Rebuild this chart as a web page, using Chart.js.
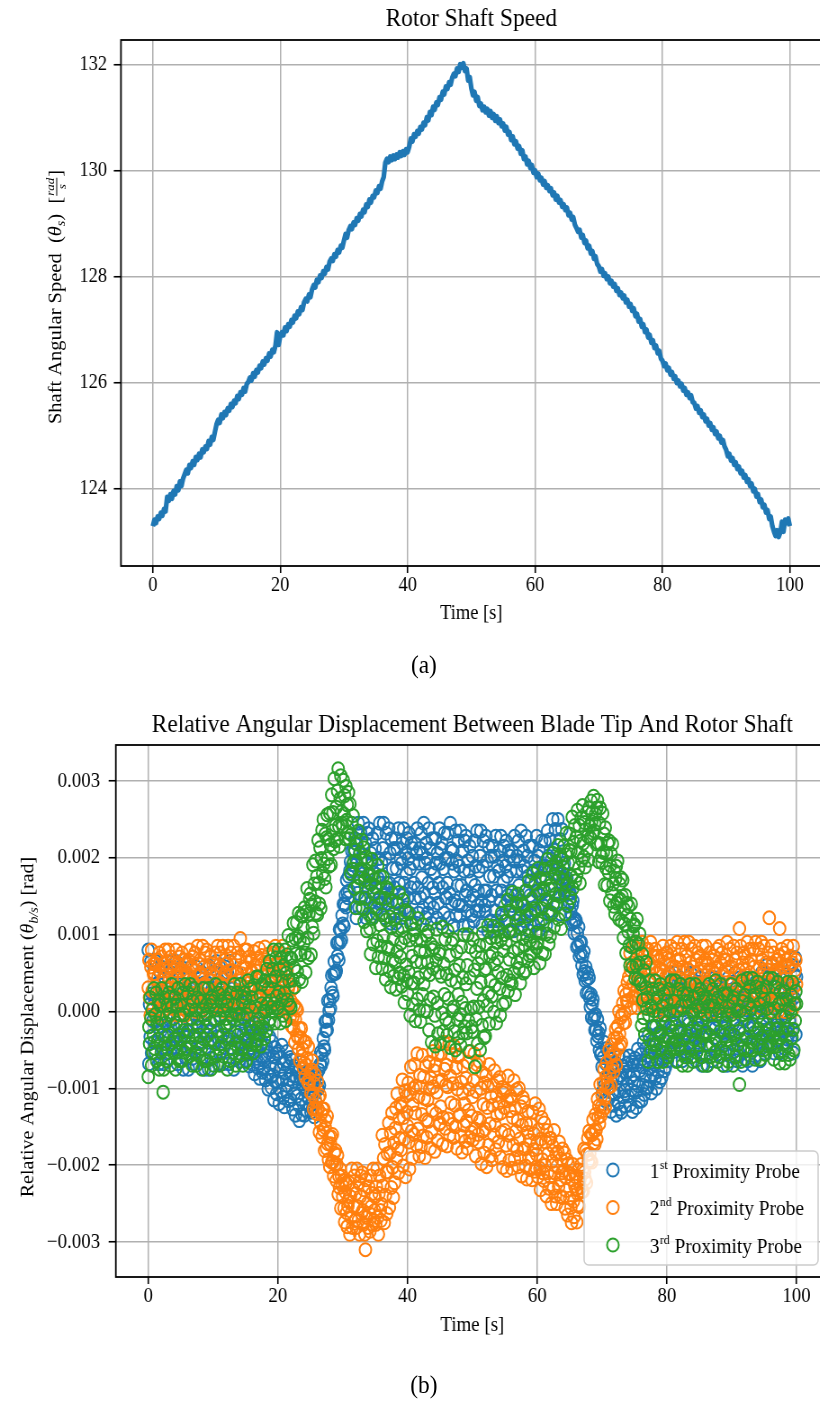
<!DOCTYPE html>
<html>
<head>
<meta charset="utf-8">
<script src="https://cdn.jsdelivr.net/npm/chart.js@4.4.1/dist/chart.umd.min.js"></script>
<style>
  html, body { margin: 0; padding: 0; background: #fff; overflow: hidden; width: 820px; height: 1401px; }
  #page { position: absolute; left: 0; top: 0; width: 922px; height: 1401px; transform: scaleX(0.9); transform-origin: 0 0; }
  canvas { position: absolute; left: 0; }
  .cap { position: absolute; font-family: 'Liberation Serif', 'Times New Roman', serif; font-size: 26px; color: #000;
         transform: translate(-50%, -50%); white-space: nowrap; }
</style>
</head>
<body>
<div id="page">
  <canvas id="speed" width="913" height="628" style="top:0px;width:913px;height:628px"></canvas>
  <div class="cap" style="left:471px;top:665px">(a)</div>
  <canvas id="disp" width="921" height="649" style="top:690px;width:921px;height:649px"></canvas>
  <div class="cap" style="left:471px;top:1385px">(b)</div>
</div>
<script>
// Rotor shaft angular speed (rad/s), one sample every 0.25 s from t = 0 to 100 s
const shaftSpeed = [
  123.30,123.42,123.36,123.48,123.44,123.55,123.50,123.62,123.58,123.85,123.78,123.90,123.82,123.96,123.90,124.05,123.98,124.14,124.06,124.20,
  124.28,124.36,124.30,124.45,124.40,124.52,124.46,124.60,124.55,124.66,124.60,124.74,124.70,124.80,124.76,124.90,124.84,124.98,124.93,125.08,
  125.22,125.30,125.25,125.40,125.34,125.45,125.40,125.52,125.48,125.60,125.55,125.66,125.62,125.75,125.70,125.82,125.78,125.90,125.84,125.98,
  126.02,126.10,126.05,126.18,126.12,126.24,126.20,126.32,126.28,126.40,126.35,126.46,126.42,126.55,126.50,126.62,126.58,126.70,126.95,126.72,
  126.88,126.95,126.90,127.04,126.98,127.10,127.06,127.18,127.14,127.26,127.22,127.34,127.30,127.42,127.38,127.52,127.58,127.54,127.66,127.62,
  127.76,127.84,127.80,127.94,127.90,128.02,127.98,128.10,128.06,128.18,128.14,128.28,128.34,128.30,128.42,128.38,128.50,128.46,128.58,128.55,
  128.68,128.80,128.74,128.88,128.95,128.90,129.02,128.98,129.10,129.06,129.18,129.14,129.26,129.22,129.36,129.32,129.45,129.40,129.52,129.50,
  129.62,129.58,129.70,129.66,129.80,129.88,130.15,130.22,130.16,130.26,130.20,130.28,130.22,130.30,130.25,130.34,130.28,130.36,130.30,130.40,
  130.35,130.45,130.60,130.55,130.68,130.64,130.74,130.70,130.82,130.78,130.90,130.86,131.00,130.95,131.10,131.05,131.20,131.15,131.28,131.24,
  131.38,131.34,131.48,131.44,131.58,131.54,131.66,131.62,131.75,131.82,131.78,131.92,131.86,132.00,131.94,132.02,131.88,131.92,131.70,131.76,
  131.55,131.42,131.48,131.32,131.38,131.22,131.26,131.14,131.20,131.10,131.16,131.04,131.12,131.00,131.06,130.94,131.02,130.90,130.96,130.84,
  130.88,130.76,130.82,130.68,130.72,130.58,130.64,130.50,130.55,130.42,130.46,130.32,130.38,130.22,130.26,130.12,130.18,130.05,130.10,129.96,
  130.00,129.88,129.94,129.82,129.86,129.74,129.80,129.68,129.72,129.62,129.66,129.54,129.58,129.46,129.52,129.40,129.44,129.32,129.36,129.26,
  129.30,129.16,129.20,129.08,129.12,128.98,128.92,128.85,128.88,128.74,128.78,128.64,128.68,128.54,128.58,128.44,128.48,128.34,128.38,128.24,
  128.20,128.10,128.14,128.02,128.06,127.96,128.00,127.88,127.92,127.82,127.86,127.74,127.78,127.66,127.70,127.60,127.64,127.52,127.56,127.44,
  127.48,127.36,127.40,127.26,127.30,127.16,127.20,127.06,127.10,126.96,127.00,126.86,126.90,126.76,126.80,126.66,126.70,126.56,126.60,126.46,
  126.42,126.32,126.36,126.24,126.28,126.16,126.20,126.08,126.12,126.00,126.04,125.94,125.98,125.86,125.90,125.78,125.82,125.72,125.76,125.64,
  125.62,125.52,125.56,125.44,125.48,125.36,125.40,125.28,125.32,125.20,125.24,125.12,125.16,125.04,125.08,124.96,125.00,124.88,124.92,124.80,
  124.74,124.62,124.66,124.54,124.58,124.46,124.50,124.38,124.42,124.30,124.34,124.22,124.26,124.14,124.18,124.06,124.10,123.96,124.00,123.86,
  123.90,123.76,123.80,123.66,123.70,123.56,123.60,123.44,123.48,123.30,123.20,123.12,123.22,123.10,123.18,123.38,123.20,123.42,123.36,123.44,123.30
];

// Relative angular displacement between blade tip and shaft for each probe,
// one sample every 0.1 s from t = 0 to 100 s (one line per second), in units of 1e-5 rad
const probe1 = [
  80,-68,9,-33,65,-54,23,-12,51,-40,
  16,-54,65,-12,-40,37,-68,9,51,-26,
  58,-19,-47,23,-68,9,44,-33,-5,-54,
  30,-26,-61,51,-12,16,-47,65,-40,-19,
  9,-47,30,65,-33,-68,16,51,-19,-40,
  -47,58,-19,23,-75,44,-33,2,-61,30,
  -26,44,-75,2,30,-47,58,-19,-61,16,
  -68,9,37,-33,58,-19,-54,23,-5,44,
  -40,16,51,-61,2,-26,37,-75,30,9,
  -19,37,-40,-75,23,58,-26,-61,9,30,
  -40,51,-12,23,-54,65,-33,9,-68,37,
  -54,-5,-33,44,9,-68,23,-47,-19,58,
  -40,-19,51,16,-68,-33,65,30,-47,9,
  9,30,-75,37,-26,2,-61,51,16,-40,
  2,-65,-16,-43,20,-56,-7,-29,11,-47,
  -23,-63,5,-39,-55,-11,-71,-27,-3,-47,
  -9,-53,-69,-29,-81,-37,-17,-61,-45,-73,
  -35,-67,-87,-23,-59,-43,-79,-15,-75,-63,
  -57,-89,-45,-25,-81,-101,-53,-33,-73,-85,
  -99,-39,-83,-59,-115,-47,-91,-71,-107,-55,
  -92,-52,-120,-76,-60,-104,-44,-88,-112,-68,
  -124,-80,-64,-104,-52,-96,-116,-72,-88,-60,
  -115,-83,-63,-127,-91,-107,-71,-135,-75,-87,
  -110,-78,-122,-142,-86,-66,-114,-134,-94,-82,
  -90,-135,-102,-120,-78,-129,-96,-111,-84,-123,
  -101,-131,-80,-113,-125,-92,-137,-104,-86,-119,
  -82,-99,-101,-76,-96,-69,-53,-70,-56,-65,
  -35,-46,-50,-13,-25,-12,-24,14,-11,1,
  14,4,31,47,24,20,49,65,50,50,
  53,89,72,90,67,107,90,106,93,125,
  114,140,111,139,152,136,171,155,148,176,
  157,183,195,179,209,191,185,211,207,225,
  219,122,193,154,245,135,206,174,232,148,
  199,135,245,174,148,219,122,193,232,161,
  238,167,141,206,122,193,225,154,180,135,
  212,161,128,232,174,199,141,245,148,167,
  193,141,212,245,154,122,199,232,167,148,
  141,238,167,206,115,225,154,186,128,212,
  161,225,115,186,212,141,238,167,128,199,
  122,193,219,154,238,167,135,206,180,225,
  148,199,232,128,186,161,219,115,212,193,
  167,219,148,115,206,238,161,128,193,212,
  148,232,174,206,135,245,154,193,122,219,
  199,128,167,238,141,212,186,115,225,161,
  135,180,154,225,193,122,206,141,167,238,
  193,212,115,219,161,186,128,232,199,148,
  148,167,232,199,122,154,245,212,141,193,
  209,112,183,144,235,125,196,164,222,138,
  189,125,235,164,138,209,112,183,222,151,
  228,157,131,196,112,183,215,144,170,125,
  202,151,118,222,164,189,131,235,138,157,
  183,131,202,235,144,112,189,222,157,138,
  131,228,157,196,105,215,144,176,118,202,
  151,215,105,176,202,131,228,157,118,189,
  112,183,209,144,228,157,125,196,170,215,
  138,189,222,118,176,151,209,105,202,183,
  157,209,138,105,196,228,151,118,183,202,
  138,222,164,196,125,235,144,183,112,209,
  189,118,157,228,131,202,176,105,215,151,
  125,170,144,215,183,112,196,131,157,228,
  183,202,105,209,151,176,118,222,189,138,
  138,157,222,189,112,144,235,202,131,183,
  224,127,198,159,250,140,211,179,237,153,
  204,140,250,179,153,224,127,198,237,166,
  175,187,193,157,171,159,173,137,164,154,
  142,154,128,114,138,144,116,102,118,120,
  118,84,102,86,110,72,90,76,90,60,
  72,48,78,52,40,58,24,42,50,24,
  44,18,6,22,-8,10,16,-10,-6,-24,
  -4,-24,-38,-10,-32,-28,-50,-22,-56,-54,
  -72,-104,-60,-40,-96,-116,-68,-48,-88,-100,
  -114,-54,-98,-74,-130,-62,-106,-86,-122,-70,
  -107,-67,-135,-91,-75,-119,-59,-103,-127,-83,
  -131,-87,-71,-111,-59,-103,-123,-79,-95,-67,
  -110,-78,-58,-122,-86,-102,-66,-130,-70,-82,
  -93,-61,-105,-125,-69,-49,-97,-117,-77,-65,
  -56,-116,-72,-96,-40,-108,-64,-84,-48,-100,
  -58,-98,-30,-74,-90,-46,-106,-62,-38,-82,
  -20,-69,-87,-42,-100,-51,-29,-78,-60,-91,
  -28,-63,-86,-14,-54,-37,-77,-5,-72,-59,
  26,-64,2,-34,50,-52,14,-16,38,-40,
  8,-52,50,-16,-40,26,-64,2,38,-28,
  44,-22,-46,14,-64,2,32,-34,-10,-52,
  20,-28,-58,38,-16,8,-46,50,-40,-22,
  2,-46,20,50,-34,-64,8,38,-22,-40,
  -46,44,-22,14,-70,32,-34,-4,-58,20,
  -28,32,-70,-4,20,-46,44,-22,-58,8,
  -64,2,26,-34,44,-22,-52,14,-10,32,
  -40,8,38,-58,-4,-28,26,-70,20,2,
  -22,26,-40,-70,14,44,-28,-58,2,20,
  -40,38,-16,14,-52,50,-34,2,-64,26,
  8,-58,-22,44,-46,20,-4,-70,32,-28,
  -52,-10,-34,32,2,-64,14,-46,-22,44,
  2,20,-70,26,-28,-4,-58,38,8,-40,
  -40,-22,38,8,-64,-34,50,20,-46,2,
  36,-54,12,-24,60,-42,24,-6,48,-30,
  18,-42,60,-6,-30,36,-54,12,48,-18,
  54,-12,-36,24,-54,12,42,-24,0,-42,
  30,-18,-48,48,-6,18,-36,60,-30,-12,
  12,-36,30,60,-24,-54,18,48,70,-30,
  45
];
const probe2 = [
  31,67,18,-5,58,80,27,4,49,62,
  49,62,-5,67,27,44,4,76,53,18,
  27,71,-5,44,62,13,80,31,4,53,
  13,80,31,58,-5,71,22,44,4,62,
  53,4,31,80,13,62,44,-5,71,27,
  18,53,76,4,44,27,67,-5,62,49,
  0,49,67,22,80,31,9,58,40,71,
  18,31,76,53,0,22,85,62,13,49,
  67,0,49,22,85,9,58,36,76,18,
  80,31,13,58,0,49,71,22,40,9,
  62,27,4,76,36,53,13,85,18,31,
  18,76,36,58,9,85,22,49,0,67,
  49,13,62,85,22,0,53,76,31,18,
  53,9,85,36,18,67,0,49,76,27,
  9,40,95,71,49,0,58,13,31,80,
  22,57,80,8,48,31,71,-1,66,53,
  51,2,29,78,11,60,42,-7,69,25,
  15,82,33,60,-3,73,24,46,6,64,
  84,35,17,62,4,53,75,26,44,13,
  18,31,76,53,0,22,85,62,13,49,
  62,27,4,76,36,53,13,85,18,31,
  53,5,35,14,53,-1,29,11,35,-7,
  14,-19,29,-7,-22,8,-40,-10,5,-31,
  2,-34,-49,-22,-64,-34,-22,-58,-49,-73,
  -40,-67,-85,-40,-70,-61,-91,-46,-94,-88,
  -79,-106,-76,-64,-109,-127,-94,-82,-115,-127,
  -133,-91,-127,-112,-157,-109,-145,-133,-163,-127,
  -154,-127,-181,-151,-142,-178,-136,-172,-193,-163,
  -202,-172,-163,-196,-160,-196,-214,-184,-199,-181,
  -220,-199,-187,-238,-214,-229,-205,-256,-214,-226,
  -241,-220,-256,-274,-235,-223,-262,-280,-253,-247,
  -223,-290,-241,-268,-205,-281,-232,-254,-214,-272,
  -237,-281,-205,-254,-272,-223,-290,-241,-214,-263,
  -210,-259,-277,-232,-290,-310,-219,-268,-250,-281,
  -228,-263,-286,-214,-254,-237,-277,-205,-272,-259,
  -241,-277,-228,-205,-268,-290,-237,-214,-259,-272,
  -251,-161,-227,-191,-275,-173,-239,-209,-263,-185,
  -209,-145,-255,-184,-158,-229,-132,-203,-242,-171,
  -223,-152,-126,-191,-107,-178,-210,-139,-165,-120,
  -180,-124,-89,-201,-138,-166,-103,-215,-110,-131,
  -149,-93,-170,-205,-107,-72,-156,-191,-121,-100,
  -160,-69,-132,-97,-174,-55,-153,-111,-188,-83,
  -99,-176,-134,-57,-162,-85,-113,-190,-71,-141,
  -164,-115,-143,-66,-101,-178,-87,-157,-129,-52,
  -98,-77,-182,-70,-133,-105,-168,-56,-91,-147,
  -145,-124,-54,-89,-173,-138,-40,-75,-152,-96,
  -70,-175,-98,-140,-42,-161,-84,-119,-56,-147,
  -94,-164,-45,-122,-150,-73,-178,-101,-59,-136,
  -57,-134,-162,-92,-183,-106,-71,-148,-120,-169,
  -87,-143,-178,-66,-129,-101,-164,-52,-157,-136,
  -111,-167,-90,-55,-153,-188,-104,-69,-139,-160,
  -170,-65,-142,-100,-198,-79,-156,-121,-184,-93,
  -153,-83,-202,-125,-97,-174,-69,-146,-188,-111,
  -193,-122,-96,-161,-77,-148,-180,-109,-135,-90,
  -170,-119,-86,-190,-132,-157,-99,-203,-106,-125,
  -155,-103,-174,-207,-116,-84,-161,-194,-129,-110,
  -114,-204,-138,-174,-90,-192,-126,-156,-102,-180,
  -142,-202,-100,-166,-190,-124,-214,-148,-112,-178,
  -118,-179,-201,-146,-218,-157,-130,-190,-168,-206,
  -147,-191,-219,-131,-180,-159,-208,-120,-203,-186,
  -171,-215,-154,-127,-204,-232,-166,-138,-193,-210,
  -220,-145,-200,-170,-240,-155,-210,-185,-230,-165,
  -215,-165,-250,-195,-175,-230,-155,-210,-240,-185,
  -250,-201,-183,-228,-170,-219,-241,-192,-210,-179,
  -242,-207,-184,-256,-216,-233,-193,-265,-198,-211,
  -243,-211,-255,-275,-219,-199,-247,-267,-227,-215,
  -232,-274,-237,-252,-206,-254,-218,-229,-199,-234,
  -207,-234,-179,-209,-218,-181,-223,-186,-165,-195,
  -156,-185,-194,-160,-196,-160,-141,-171,-155,-173,
  -134,-154,-166,-114,-138,-123,-146,-95,-136,-124,
  -109,-129,-93,-75,-113,-125,-85,-67,-94,-99,
  -99,-50,-80,-59,-97,-43,-72,-54,-78,-35,
  -56,-23,-70,-34,-19,-48,0,-29,-44,-8,
  -41,-4,11,-15,27,-2,-14,22,14,38,
  14,45,27,76,54,5,63,18,36,85,
  54,18,67,90,27,5,58,81,36,23,
  58,14,90,41,23,72,5,54,81,32,
  23,81,41,63,14,90,27,54,5,72,
  23,58,81,9,49,32,72,0,67,54,
  5,54,72,27,85,36,14,63,45,76,
  32,76,0,49,67,18,85,36,9,58,
  23,36,81,58,5,27,90,67,18,54,
  67,32,9,81,41,58,18,90,23,36,
  72,5,54,27,90,14,63,41,81,23,
  58,9,36,85,18,67,49,0,76,32,
  36,72,23,0,63,85,32,9,54,67,
  85,36,18,63,5,54,76,27,45,14,
  54,67,0,72,32,49,9,81,58,23,
  18,85,36,63,0,76,27,49,9,67,
  54,18,67,90,27,5,58,81,36,23,
  58,9,36,85,18,67,49,0,76,32,
  5,54,108,27,85,36,14,63,45,76,
  72,5,54,27,90,14,63,41,81,23,
  67,32,9,81,41,58,18,90,23,36,
  23,36,81,58,5,27,90,67,18,54,
  85,36,18,63,5,54,76,27,122,14,
  18,85,36,63,0,76,27,49,9,67,
  54,67,0,72,108,49,9,81,58,23,
  32,76,0,49,67,18,85,36,9,58,
  36,72,23,0,63,85,32,9,54,67,
  35
];
const probe3 = [
  -85,-20,-42,18,-9,-70,2,-53,-31,30,
  -48,-4,24,-64,-15,-36,13,-75,8,-9,
  -53,30,-31,-105,-75,18,-42,-15,-64,8,
  -48,-31,24,-4,-70,-42,35,8,-53,-9,
  -36,18,-75,-15,8,-53,30,-31,-64,-4,
  8,-36,-64,24,-25,-4,-53,35,-48,-31,
  -48,24,-25,2,-58,35,-42,-9,-70,13,
  30,-31,-53,2,-70,-9,18,-42,-20,-58,
  -31,13,-48,-75,2,30,-36,-64,-9,8,
  -4,-64,-31,30,-53,8,-15,-75,18,-36,
  13,-70,-9,-42,35,-58,2,-25,24,-48,
  -70,-9,13,-42,30,-31,-58,2,-20,18,
  -9,8,-75,13,-36,-15,-64,24,-4,-48,
  -9,-53,8,35,-42,-70,-4,24,-31,-48,
  -4,-58,35,-25,-48,13,-70,-9,24,-36,
  18,-65,-4,-37,40,-53,7,-20,29,-43,
  18,-26,-54,34,-15,6,-43,45,-38,-21,
  45,-10,-30,20,-45,10,35,-20,0,-35,
  40,0,-25,55,10,30,-15,65,-10,5,
  40,0,55,80,10,-15,45,70,20,5,
  5,80,25,55,-15,70,15,40,-5,60,
  24,80,-12,50,74,15,99,40,8,70,
  5,69,93,41,115,57,32,95,75,116,
  52,98,128,42,93,74,125,39,124,109,
  89,135,76,51,130,160,96,70,127,146,
  153,74,139,110,191,102,166,143,196,128,
  176,126,223,167,140,213,134,199,236,180,
  250,192,173,231,162,226,256,199,224,189,
  258,217,191,282,235,259,212,303,222,242,
  266,224,287,316,241,215,277,307,260,245,
  241,301,257,281,225,293,249,269,233,285,
  225,270,180,230,245,185,255,195,160,210,
  135,196,218,163,235,174,147,207,185,223,
  135,183,213,117,171,147,201,105,195,177,
  127,179,108,75,166,198,121,88,153,172,
  162,57,134,92,190,71,148,113,176,85,
  126,56,175,98,70,147,42,119,161,84,
  158,81,53,123,32,109,144,67,95,46,
  120,64,29,141,78,106,43,155,50,71,
  89,33,110,145,47,12,96,131,61,40,
  23,128,51,93,-5,114,37,72,9,100,
  37,107,-12,65,93,16,121,44,2,79,
  -13,64,92,22,113,36,1,78,50,99,
  0,64,104,-24,48,16,88,-40,80,56,
  19,83,-5,-45,67,107,11,-29,51,75,
  78,-42,46,-2,110,-26,62,22,94,-10,
  49,-31,105,17,-15,73,-47,41,89,1,
  94,6,-26,54,-50,38,78,-10,22,-34,
  60,-4,-44,84,12,44,-28,100,-20,4,
  36,-28,60,100,-12,-52,44,84,4,-20,
  -26,94,6,54,-72,78,-10,30,-42,62,
  6,86,-50,38,70,-18,102,14,-34,54,
  -32,56,88,8,112,24,-16,72,40,96,
  20,76,111,-1,62,34,97,-15,90,69,
  51,107,30,-5,93,128,44,9,79,100,
  117,12,89,47,145,26,103,68,131,40,
  106,36,155,78,50,127,22,99,141,64,
  153,82,56,121,37,108,140,69,95,50,
  137,86,53,157,99,124,66,170,73,92,
  128,76,147,180,89,57,134,167,102,83,
  89,186,115,154,63,173,102,134,76,160,
  121,185,75,146,172,101,198,127,88,159,
  98,164,188,128,206,140,110,176,152,194,
  138,186,216,120,174,150,204,108,198,180,
  171,215,154,127,204,232,166,138,193,210,
  231,148,209,176,253,160,220,193,242,170,
  227,177,262,207,187,242,167,222,252,197,
  268,219,201,246,188,237,259,210,228,197,
  265,241,226,274,247,259,232,280,235,244,
  257,218,265,275,219,195,245,265,218,202,
  194,258,207,231,165,239,187,206,164,219,
  181,222,144,190,205,154,218,166,137,183,
  127,173,189,141,196,145,120,166,146,174,
  118,150,171,96,133,114,151,76,141,125,
  104,137,86,60,120,140,84,58,101,111,
  113,43,90,60,120,42,88,63,101,40,
  36,-18,75,15,-8,53,-30,31,64,4,
  18,-65,-4,-37,40,-53,7,-20,29,-43,
  1,-53,40,-20,-43,18,-65,-4,29,-31,
  35,-26,-48,7,-65,-4,23,-37,-15,-53,
  13,-31,-59,29,-20,1,-48,40,-43,-26,
  -4,-48,13,40,-37,-65,1,29,-26,-43,
  -48,35,-26,7,-70,23,-37,-10,-59,13,
  -31,23,-70,-10,13,-48,35,-26,-59,1,
  -65,-4,18,-37,35,-26,-53,7,-15,23,
  -43,1,29,-59,-10,-31,18,-70,13,-4,
  -26,18,-43,-70,7,35,-31,-59,-4,13,
  -43,29,-20,7,-53,40,-37,-4,-65,18,
  1,-59,-26,35,-48,13,-10,-70,23,-31,
  -53,-15,-37,23,-4,-65,7,-48,-26,35,
  -4,13,-70,18,-31,-10,-59,29,1,-43,
  -43,-26,-95,1,-65,-37,40,13,-48,-4,
  21,-62,-1,-34,43,-50,10,-17,32,-40,
  4,-50,43,-17,-40,21,-62,-1,32,-28,
  38,-23,-45,10,-62,-1,26,-34,-12,-50,
  16,-28,-56,32,-17,4,-45,43,-40,-23,
  -1,-45,16,43,-34,-62,4,32,-23,-40,
  -45,38,-23,10,-67,26,-34,-7,-56,16,
  -28,26,-67,-7,16,-45,38,-23,-56,4,
  -62,-1,21,-34,38,-23,-50,10,-12,26,
  10
];

const SPEED_STEP = 0.25;    // s between shaft speed samples
const PROBE_STEP = 0.1;     // s between probe samples
const DISP_UNIT = 1e-5;     // rad per stored displacement unit

const timeTicks = [0, 20, 40, 60, 80, 100];
const speedTicks = [124, 126, 128, 130, 132];
const dispTicks = [-0.003, -0.002, -0.001, 0, 0.001, 0.002, 0.003];
const probeOrdinals = [['1', 'st'], ['2', 'nd'], ['3', 'rd']];
const probeColors = ['#1f77b4', '#ff7f0e', '#2ca02c'];

const FONT = "'Liberation Serif', 'Times New Roman', serif";
Chart.defaults.font.family = FONT;
Chart.defaults.color = '#000';

const fontStr = (size, style) => `${style || 'normal'} ${size}px ${FONT}`;

const grid = (tickLength) => ({
  color: '#b0b0b0', lineWidth: 1.5, drawTicks: true,
  tickColor: '#000', tickWidth: 1.6, tickLength
});
const fixedTicks = (values) => (scale) => { scale.ticks = values.map(value => ({ value })); };
const minusSign = (s) => s.replace('-', '\u2212');

// Black box around the plotting area
const framePlugin = {
  id: 'frame',
  afterDatasetsDraw(chart) {
    const { ctx, chartArea: a } = chart;
    ctx.save();
    ctx.strokeStyle = '#000';
    ctx.lineWidth = 1.8;
    ctx.strokeRect(a.left, a.top, a.right - a.left, a.bottom - a.top);
    ctx.restore();
  }
};

// Rotated axis label built from runs of text (roman, italic, subscript, fraction)
function verticalLabel(cx, shift, runs) {
  return {
    id: 'vlabel',
    afterDraw(chart) {
      const { ctx, chartArea: a } = chart;
      ctx.save();
      ctx.fillStyle = '#000';
      ctx.textBaseline = 'alphabetic';
      const widths = runs.map(r => {
        ctx.font = r.font;
        if (r.frac) return Math.max(ctx.measureText(r.frac[0]).width, ctx.measureText(r.frac[1]).width) + 2;
        return ctx.measureText(r.text).width;
      });
      const total = widths.reduce((s, w) => s + w, 0);
      ctx.translate(cx, (a.top + a.bottom) / 2 + shift);
      ctx.rotate(-Math.PI / 2);
      let x = -total / 2;
      runs.forEach((r, i) => {
        ctx.font = r.font;
        if (r.frac) {
          const w = widths[i];
          ctx.textAlign = 'center';
          ctx.fillText(r.frac[0], x + w / 2, r.numY);
          ctx.fillText(r.frac[1], x + w / 2, r.denY);
          ctx.fillRect(x + 1, r.barY, w - 2, 1);
          ctx.textAlign = 'left';
        } else {
          ctx.textAlign = 'left';
          ctx.fillText(r.text, x, r.y);
        }
        x += widths[i];
      });
      ctx.restore();
    }
  };
}

// Legend box in the lower right of the plotting area, with superscript ordinals
const probeLegend = {
  id: 'probeLegend',
  afterDraw(chart) {
    const { ctx, chartArea: a } = chart;
    const w = 260, h = 114;
    const x0 = a.right - 12 - w, y0 = a.bottom - 12 - h;
    ctx.save();
    ctx.beginPath();
    ctx.roundRect(x0, y0, w, h, 5);
    ctx.fillStyle = 'rgba(255,255,255,0.8)';
    ctx.fill();
    ctx.strokeStyle = '#cccccc';
    ctx.lineWidth = 1.5;
    ctx.stroke();
    chart.data.datasets.forEach((ds, i) => {
      const cy = y0 + 19 + i * 37.5;
      ctx.beginPath();
      ctx.arc(x0 + 32, cy, ds.pointRadius, 0, Math.PI * 2);
      ctx.strokeStyle = ds.pointBorderColor;
      ctx.lineWidth = ds.pointBorderWidth;
      ctx.stroke();
      const [num, sup] = probeOrdinals[i];
      let tx = x0 + 73;
      ctx.fillStyle = '#000';
      ctx.textAlign = 'left';
      ctx.textBaseline = 'alphabetic';
      ctx.font = fontStr(21.5);
      ctx.fillText(num, tx, cy + 7.5);
      tx += ctx.measureText(num).width + 0.5;
      ctx.font = fontStr(13);
      ctx.fillText(sup, tx, cy - 1.5);
      tx += ctx.measureText(sup).width;
      ctx.font = fontStr(21.5);
      ctx.fillText(' Proximity Probe', tx, cy + 7.5);
    });
    ctx.restore();
  }
};

// (a) rotor shaft speed
new Chart(document.getElementById('speed'), {
  type: 'line',
  data: {
    datasets: [{
      label: 'Shaft angular speed',
      data: shaftSpeed.map((v, i) => ({ x: i * SPEED_STEP, y: v })),
      borderColor: '#1f77b4', borderWidth: 5.2, borderJoinStyle: 'round',
      pointRadius: 0, fill: false, tension: 0
    }]
  },
  options: {
    responsive: false, animation: false, devicePixelRatio: 1,
    layout: { padding: 0, autoPadding: false },
    plugins: {
      legend: { display: false }, tooltip: { enabled: false },
      title: {
        display: true, text: 'Rotor Shaft Speed', fullSize: false, color: '#000',
        font: { family: FONT, size: 26, weight: 'normal' }, padding: { top: 3.4, bottom: 5.4 }
      }
    },
    scales: {
      x: {
        type: 'linear', min: -5, max: 105,
        afterBuildTicks: fixedTicks(timeTicks),
        afterFit: (s) => { s.height = 62; },
        grid: grid(7), border: { display: false },
        ticks: { font: { size: 20.5 }, color: '#000', padding: 0, maxRotation: 0, autoSkip: false, callback: v => String(v) },
        title: { display: true, text: 'Time [s]', color: '#000', font: { size: 20.5 }, padding: { top: 0, bottom: 2 } }
      },
      y: {
        type: 'linear', min: 122.55, max: 132.46,
        afterBuildTicks: fixedTicks(speedTicks),
        afterFit: (s) => { s.width = 134.4; },
        grid: grid(8), border: { display: false },
        ticks: { font: { size: 20.5 }, color: '#000', padding: 7.5, autoSkip: false, callback: v => String(v) }
      }
    }
  },
  plugins: [framePlugin, verticalLabel(61, -6, [
    { text: 'Shaft Angular Speed  (', font: fontStr(20.5), y: 7 },
    { text: '\u03b8', font: fontStr(20.5, 'italic'), y: 7 },
    { text: 's', font: fontStr(14, 'italic'), y: 11 },
    { text: ')  [', font: fontStr(20.5), y: 7 },
    { frac: ['rad', 's'], font: fontStr(13, 'italic'), numY: -1, denY: 12, barY: 1.5 },
    { text: ']', font: fontStr(20.5), y: 7 }
  ])]
});

// (b) relative angular displacement seen by the three probes
const toPoints = (vals) => vals.map((v, i) => ({ x: i * PROBE_STEP, y: v * DISP_UNIT }));
const probeData = [probe1, probe2, probe3];

new Chart(document.getElementById('disp'), {
  type: 'scatter',
  data: {
    datasets: probeData.map((vals, i) => ({
      label: probeOrdinals[i].join('') + ' Proximity Probe',
      data: toPoints(vals),
      order: 2 - i,
      pointStyle: 'circle', pointRadius: 6.5, pointBorderWidth: 2,
      pointBorderColor: probeColors[i], pointBackgroundColor: 'rgba(0,0,0,0)',
      borderColor: probeColors[i], backgroundColor: 'rgba(0,0,0,0)'
    }))
  },
  options: {
    responsive: false, animation: false, devicePixelRatio: 1,
    layout: { padding: 0, autoPadding: false },
    plugins: {
      legend: { display: false }, tooltip: { enabled: false },
      title: {
        display: true, text: 'Relative Angular Displacement Between Blade Tip And Rotor Shaft',
        fullSize: false, color: '#000',
        font: { family: FONT, size: 26, weight: 'normal' }, padding: { top: 19.4, bottom: 4.4 }
      }
    },
    scales: {
      x: {
        type: 'linear', min: -5, max: 105,
        afterBuildTicks: fixedTicks(timeTicks),
        afterFit: (s) => { s.height = 62; },
        grid: grid(7), border: { display: false },
        ticks: { font: { size: 21 }, color: '#000', padding: 0, maxRotation: 0, autoSkip: false, callback: v => String(v) },
        title: { display: true, text: 'Time [s]', color: '#000', font: { size: 21 }, padding: { top: 0, bottom: 1 } }
      },
      y: {
        type: 'linear', min: -0.0034555, max: 0.0034686,
        afterBuildTicks: fixedTicks(dispTicks),
        afterFit: (s) => { s.width = 128.7; },
        grid: grid(8), border: { display: false },
        ticks: { font: { size: 21 }, color: '#000', padding: 9.5, autoSkip: false, callback: v => minusSign(v.toFixed(3)) }
      }
    }
  },
  plugins: [framePlugin, probeLegend, verticalLabel(30, 16, [
    { text: 'Relative Angular Displacement (', font: fontStr(20), y: 7 },
    { text: '\u03b8', font: fontStr(20, 'italic'), y: 7 },
    { text: 'b/s', font: fontStr(14, 'italic'), y: 11.5 },
    { text: ') [rad]', font: fontStr(20), y: 7 }
  ])]
});
</script>
</body>
</html>
